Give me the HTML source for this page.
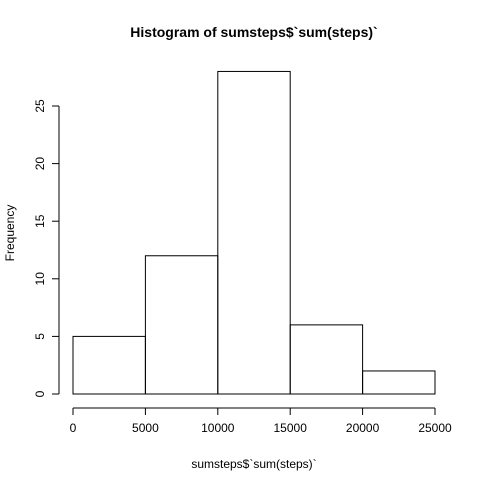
<!DOCTYPE html>
<html><head><meta charset="utf-8"><style>
body{margin:0;background:#fff}
svg{display:block;font-family:"Liberation Sans",Arial,sans-serif}
</style></head><body>
<svg id="c" width="480" height="480">
<text x="254" y="37" text-anchor="middle" font-size="14" font-weight="bold">Histogram of sumsteps$`sum(steps)`</text>
<text x="254" y="468" text-anchor="middle" font-size="12">sumsteps$`sum(steps)`</text>
<text transform="translate(14,233) rotate(-90)" text-anchor="middle" font-size="12">Frequency</text>
<g id="bars"></g><g id="xax"></g><g id="yax"></g>
</svg>
<script>
const breaks=[0,5000,10000,15000,20000,25000];
const counts=[5,12,28,6,2];
const xTicks=[0,5000,10000,15000,20000,25000];
const yTicks=[0,5,10,15,20,25];
const X=v=>73+v/25000*362;
const Y=v=>394-v*11.52;
const NS="http://www.w3.org/2000/svg";
function mk(t,a,p,txt){const e=document.createElementNS(NS,t);for(const k in a)e.setAttribute(k,a[k]);if(txt!==undefined)e.textContent=txt;p.appendChild(e);return e;}
const bars=document.getElementById('bars');
counts.forEach((c,i)=>{
const r=mk('rect',{x:X(breaks[i]),y:Y(c),width:X(breaks[i+1])-X(breaks[i]),height:Y(0)-Y(c),fill:'none',stroke:'#000','stroke-width':1},bars);


});
const xa=document.getElementById('xax');
mk('line',{x1:X(xTicks[0]),x2:X(xTicks[xTicks.length-1]),y1:408,y2:408,stroke:'#000'},xa);
xTicks.forEach(t=>{
mk('line',{x1:X(t),x2:X(t),y1:408,y2:415,stroke:'#000'},xa);
const l=mk('text',{x:X(t),y:432,'text-anchor':'middle','font-size':12},xa,String(t));


});
const ya=document.getElementById('yax');
mk('line',{x1:59,x2:59,y1:Y(yTicks[0]),y2:Y(yTicks[yTicks.length-1]),stroke:'#000'},ya);
yTicks.forEach(t=>{
mk('line',{x1:52,x2:59,y1:Y(t),y2:Y(t),stroke:'#000'},ya);
const l=mk('text',{transform:`translate(44,${Y(t)}) rotate(-90)`,'text-anchor':'middle','font-size':12},ya,String(t));


});
</script>
</body></html>
